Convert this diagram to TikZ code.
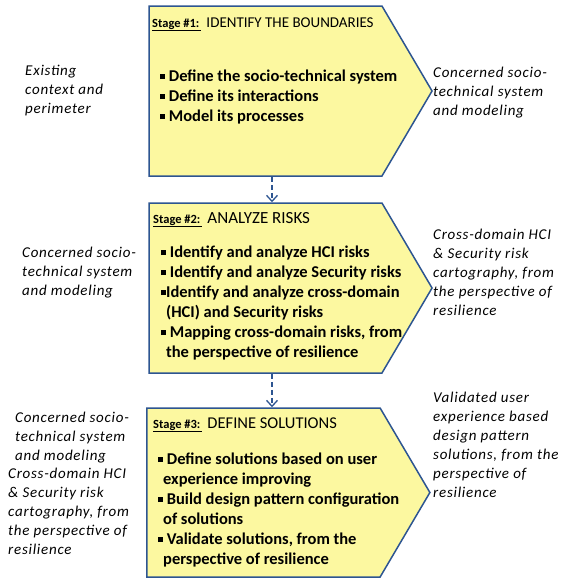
\documentclass[tikz,border=0pt]{standalone}
\usepackage{fontspec}
\setmainfont{Carlito}
\usetikzlibrary{shapes.symbols,arrows.meta}
\definecolor{stage_yellow}{RGB}{252, 248, 160}
\definecolor{stage_blue}{RGB}{45, 85, 145}
\tikzstyle{stage}=[signal,signal to=east,signal pointer angle=119,fill=stage_yellow,
  draw=stage_blue,line width=1.5pt,inner sep=0pt,minimum width=283pt]
\tikzstyle{flow}=[draw=stage_blue,line width=1.3pt,dash pattern=on 5pt off 3pt,
  -{Straight Barb[length=6pt,width=11pt,line width=1.3pt]}]
\tikzstyle{io}=[align=left,anchor=base west,inner sep=0pt,
  font=\fontsize{15}{19}\selectfont\itshape\addfontfeature{LetterSpace=5}]
\tikzstyle{task}=[align=left,anchor=base west,inner sep=0pt,
  font=\fontsize{16.5}{20}\selectfont\bfseries]
\tikzstyle{title}=[anchor=base west,inner sep=0pt]
\newcommand{\bul}{\raisebox{0.25ex}{\rule{0.3em}{0.3em}}}
\newcommand{\stagelbl}[1]{{\fontsize{12.5}{14}\selectfont\bfseries\underline{Stage \##1:\,}}\hspace{5pt}}

\begin{document}
\begin{tikzpicture}[x=1pt,y=-1pt]
    \useasboundingbox (0,0) rectangle (563,581);
    \node [style=stage,minimum height=170pt] (s1) at (265.5,91) {};
    \node [style=stage,minimum height=170pt] (s2) at (265.5,288) {};
    \node [style=stage,minimum height=169pt] (s3) at (263.5,492.5) {};
    \node [style=title] (t1) at (152,27) {\stagelbl{1}{\fontsize{15}{16}\selectfont IDENTIFY THE BOUNDARIES}};
    \node [style=title] (t2) at (153,223) {\stagelbl{2}{\fontsize{17}{18}\selectfont ANALYZE RISKS}};
    \node [style=title] (t3) at (153,428) {\stagelbl{3}{\fontsize{16.5}{18}\selectfont DEFINE SOLUTIONS}};
    \node [style=task] (b1) at (160,121) {\bul\ Define the socio-technical system\\
      \bul\ Define its interactions\\
      \bul\ Model its processes};
    \node [style=task] (b2) at (161,357) {\bul\ Identify and analyze HCI risks\\
      \bul\ Identify and analyze Security risks\\
      \bul Identify and analyze cross-domain\\
      \phantom{\bul}(HCI) and Security risks\\
      \bul\ Mapping cross-domain risks, from\\
      \phantom{\bul}the perspective of resilience};
    \node [style=task] (b3) at (158,564) {\bul\ Define solutions based on user\\
      \phantom{\bul}experience improving\\
      \bul\ Build design pattern configuration\\
      \phantom{\bul}of solutions\\
      \bul\ Validate solutions, from the\\
      \phantom{\bul}perspective of resilience};
    \node [style=io] (in1) at (25,113) {Existing\\ context and\\ perimeter};
    \node [style=io] (in2) at (22,295) {Concerned socio-\\ technical system\\ and modeling};
    \node [style=io] (in3) at (15,460) {Concerned socio-\\ technical system\\ and modeling};
    \node [style=io] (in4) at (8,554) {Cross-domain HCI\\ \& Security risk\\ cartography, from\\ the perspective of\\ resilience};
    \node [style=io] (out1) at (433,115) {Concerned socio-\\ technical system\\ and modeling};
    \node [style=io] (out2) at (433,315) {Cross-domain HCI\\ \& Security risk\\ cartography, from\\ the perspective of\\ resilience};
    \node [style=io] (out3) at (433,497) {Validated user\\ experience based\\ design pattern\\ solutions, from the\\ perspective of\\ resilience};
    \draw [style=flow] ([xshift=6.5pt]s1.south) to ([xshift=6.5pt]s2.north);
    \draw [style=flow] ([xshift=6.5pt]s2.south) to ([xshift=8.5pt]s3.north);
\end{tikzpicture}
\end{document}
